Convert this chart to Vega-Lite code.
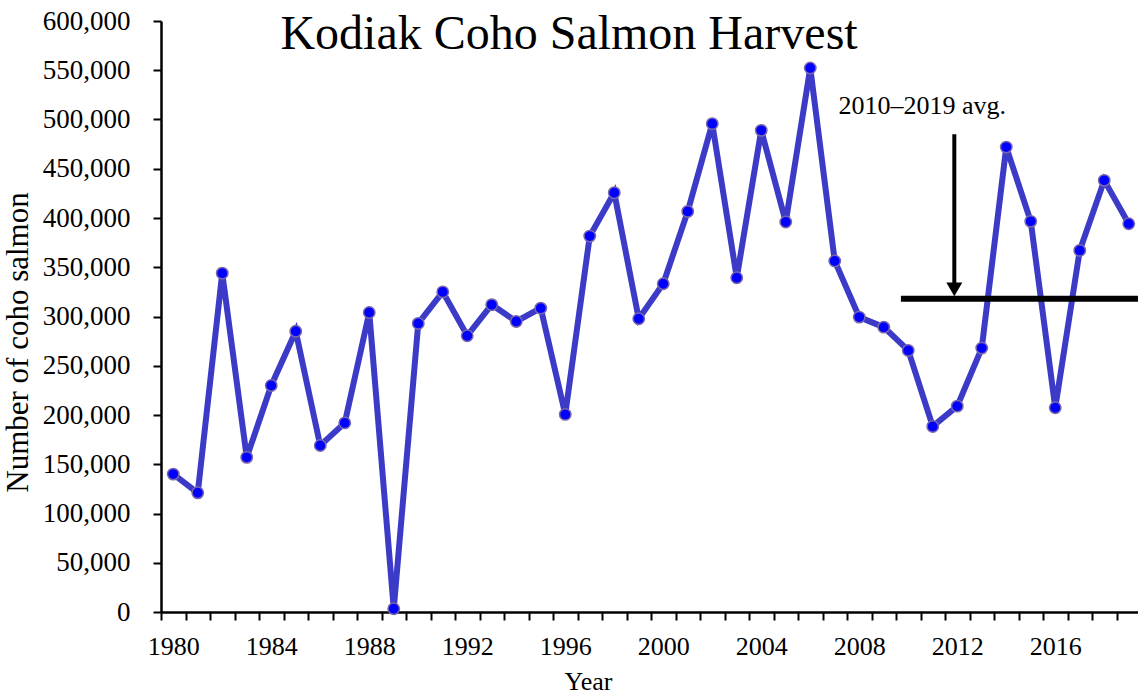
{
  "$schema": "https://vega.github.io/schema/vega-lite/v6.json",
  "width": 980,
  "height": 591,
  "autosize": {"type": "none"},
  "padding": {"left": 161, "top": 21, "right": 0, "bottom": 82},
  "background": "white",
  "title": {"text": "Kodiak Coho Salmon Harvest", "font": "Liberation Serif", "fontSize": 48, "fontWeight": "normal", "color": "black", "anchor": "middle", "baseline": "alphabetic", "offset": 0, "dx": -82, "dy": 90},
  "config": {"view": {"stroke": null}, "font": "Liberation Serif"},
  "resolve": {"axis": {"x": "independent"}},
  "datasets": {
    "harvest": [
      {"year": 1980, "value": 140000}, {"year": 1981, "value": 121000}, {"year": 1982, "value": 344000},
      {"year": 1983, "value": 157000}, {"year": 1984, "value": 230000}, {"year": 1985, "value": 285000},
      {"year": 1986, "value": 169000}, {"year": 1987, "value": 192000}, {"year": 1988, "value": 304000},
      {"year": 1989, "value": 3300}, {"year": 1990, "value": 293000}, {"year": 1991, "value": 325000},
      {"year": 1992, "value": 280500}, {"year": 1993, "value": 312000}, {"year": 1994, "value": 295000},
      {"year": 1995, "value": 308500}, {"year": 1996, "value": 200600}, {"year": 1997, "value": 381600},
      {"year": 1998, "value": 425700}, {"year": 1999, "value": 297700}, {"year": 2000, "value": 333300},
      {"year": 2001, "value": 406700}, {"year": 2002, "value": 495800}, {"year": 2003, "value": 339400},
      {"year": 2004, "value": 489000}, {"year": 2005, "value": 395900}, {"year": 2006, "value": 552300},
      {"year": 2007, "value": 356300}, {"year": 2008, "value": 299400}, {"year": 2009, "value": 289200},
      {"year": 2010, "value": 265600}, {"year": 2011, "value": 188400}, {"year": 2012, "value": 209000},
      {"year": 2013, "value": 267900}, {"year": 2014, "value": 472000}, {"year": 2015, "value": 396600},
      {"year": 2016, "value": 207400}, {"year": 2017, "value": 367100}, {"year": 2018, "value": 438200},
      {"year": 2019, "value": 394200}
    ],
    "avg": [{"year": 2009.7, "year_end": 2019.5, "value": 318000}],
    "arrow": [{"year": 2011.88, "value": 485000, "value_end": 334000}],
    "head": [{"year": 2011.88, "value": 327500}],
    "label": [{"year": 2010.57, "value": 506000, "text": "2010–2019 avg."}]
  },
  "encoding": {
    "x": {
      "field": "year", "type": "quantitative", "title": "Year",
      "scale": {"domain": [1979.5, 2019.5], "nice": false, "zero": false},
      "axis": null
    },
    "y": {
      "field": "value", "type": "quantitative", "title": "Number of coho salmon",
      "scale": {"domain": [0, 600000], "nice": false},
      "axis": {
        "values": [0, 50000, 100000, 150000, 200000, 250000, 300000, 350000, 400000, 450000, 500000, 550000, 600000],
        "labelExpr": "format(datum.value, ',')",
        "labelFont": "Liberation Serif", "labelFontSize": 27, "labelColor": "black",
        "labelPadding": 23, "labelOverlap": false, "labelFlush": false, "labelBound": false,
        "tickSize": 8, "tickWidth": 2, "tickColor": "black",
        "domainColor": "black", "domainWidth": 2.5, "grid": false,
        "titleFont": "Liberation Serif", "titleFontSize": 31, "titleFontWeight": "normal", "titleColor": "black",
        "titleX": -134, "titleY": 321, "titleBaseline": "alphabetic", "titleAlign": "center", "titleAngle": -90
      }
    }
  },
  "layer": [
    {
      "data": {"name": "harvest"},
      "mark": {"type": "line", "color": "#3b3bc8", "strokeWidth": 6, "strokeJoin": "miter"},
      "encoding": {
        "x": {
          "field": "year", "type": "quantitative", "title": "Year",
          "scale": {"domain": [1979.5, 2019.5], "nice": false, "zero": false},
          "axis": {
            "orient": "bottom",
            "values": [1979.5, 1980.5, 1981.5, 1982.5, 1983.5, 1984.5, 1985.5, 1986.5, 1987.5, 1988.5, 1989.5, 1990.5, 1991.5, 1992.5, 1993.5, 1994.5, 1995.5, 1996.5, 1997.5, 1998.5, 1999.5, 2000.5, 2001.5, 2002.5, 2003.5, 2004.5, 2005.5, 2006.5, 2007.5, 2008.5, 2009.5, 2010.5, 2011.5, 2012.5, 2013.5, 2014.5, 2015.5, 2016.5, 2017.5, 2018.5, 2019.5],
            "labels": false,
            "tickSize": 8, "tickWidth": 2, "tickColor": "black",
            "domainColor": "black", "domainWidth": 2.5, "grid": false,
            "titleFont": "Liberation Serif", "titleFontSize": 26, "titleFontWeight": "normal", "titleColor": "black",
            "titleX": 427, "titleY": 77, "titleBaseline": "alphabetic", "titleAlign": "center"
          }
        }
      }
    },
    {
      "data": {"name": "harvest"},
      "mark": {"type": "point", "filled": true, "fill": "#0000ff", "stroke": "#7b68a8", "strokeWidth": 1.5, "size": 130, "opacity": 1},
      "encoding": {
        "x": {
          "field": "year", "type": "quantitative", "title": null,
          "scale": {"domain": [1979.5, 2019.5], "nice": false, "zero": false},
          "axis": {
            "orient": "bottom",
            "values": [1980, 1984, 1988, 1992, 1996, 2000, 2004, 2008, 2012, 2016],
            "labelExpr": "format(datum.value, 'd')",
            "labelFont": "Liberation Serif", "labelFontSize": 26, "labelColor": "black",
            "labelPadding": 21, "labelOverlap": false, "labelFlush": false, "labelBound": false,
            "ticks": false, "tickSize": 0, "domain": false, "grid": false, "title": null
          }
        }
      }
    },
    {
      "data": {"name": "avg"},
      "mark": {"type": "rule", "color": "black", "strokeWidth": 6},
      "encoding": {"x2": {"field": "year_end"}}
    },
    {
      "data": {"name": "arrow"},
      "mark": {"type": "rule", "color": "black", "strokeWidth": 4},
      "encoding": {"y2": {"field": "value_end"}}
    },
    {
      "data": {"name": "head"},
      "mark": {"type": "point", "shape": "M -1 -0.85 L 1 -0.85 L 0 0.85 Z", "filled": true, "color": "black", "size": 256, "opacity": 1}
    },
    {
      "data": {"name": "label"},
      "mark": {"type": "text", "font": "Liberation Serif", "fontSize": 26, "color": "black", "align": "center", "baseline": "alphabetic"},
      "encoding": {"text": {"field": "text"}}
    }
  ]
}
